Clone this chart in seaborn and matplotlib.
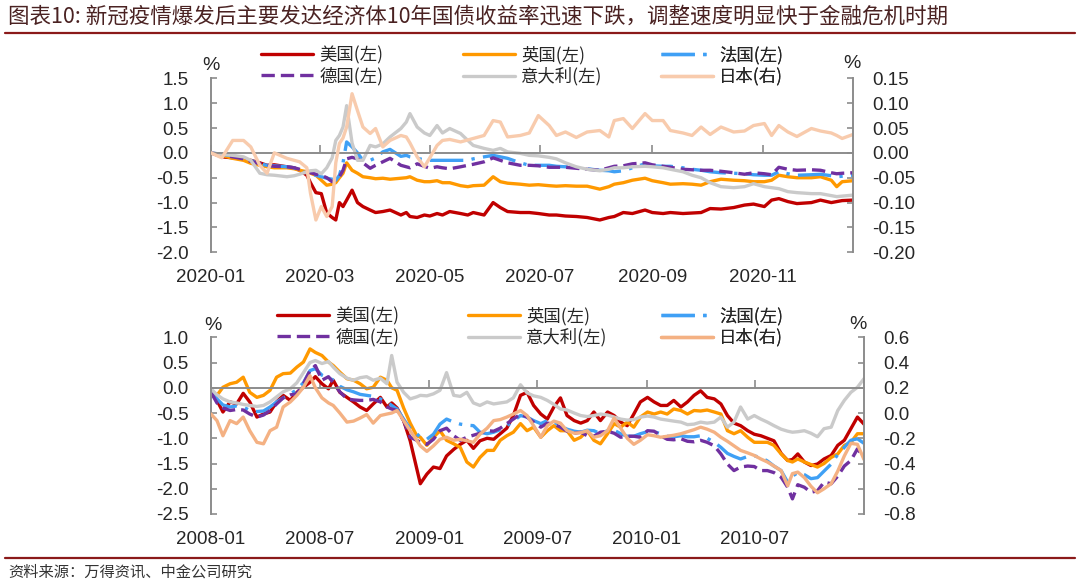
import matplotlib
matplotlib.use('Agg')
import matplotlib.pyplot as plt
from matplotlib.dates import DateFormatter, MonthLocator
from matplotlib.lines import Line2D
import seaborn as sns
import pandas as pd

# ---- 2020 panel: days since 2020-01-01, change in 10y yield (pp) ----
top_day = [0, 6, 12, 18, 22, 27, 31, 35, 42, 46,
           49, 53, 55, 58, 61, 64, 67, 69, 71, 73,
           75, 78, 81, 84, 88, 91, 95, 99, 105, 108,
           110, 114, 118, 121, 125, 128, 132, 138, 142, 145,
           151, 156, 160, 164, 171, 176, 181, 187, 191, 196,
           202, 208, 215, 220, 223, 228, 233, 240, 244, 250,
           254, 261, 266, 271, 276, 282, 289, 295, 300, 306,
           310, 314, 319, 324, 332, 337, 343, 346, 349, 355]
top_us = [0.0, -0.08, -0.1, -0.12, -0.15, -0.2, -0.25, -0.24, -0.28, -0.3,
          -0.35, -0.45, -0.6, -0.8, -0.82, -1.21, -1.3, -1.35, -1.0, -1.08,
          -0.95, -0.75, -1.0, -1.08, -1.15, -1.2, -1.18, -1.15, -1.25, -1.2,
          -1.28, -1.3, -1.25, -1.27, -1.22, -1.25, -1.18, -1.22, -1.25, -1.2,
          -1.25, -1.0, -1.1, -1.18, -1.2, -1.2, -1.22, -1.25, -1.25, -1.27,
          -1.28, -1.3, -1.35, -1.3, -1.28, -1.2, -1.22, -1.15, -1.2, -1.22,
          -1.2, -1.22, -1.21, -1.2, -1.12, -1.13, -1.1, -1.05, -1.03, -1.08,
          -0.95, -0.92, -0.98, -1.02, -1.0, -0.95, -1.0, -0.98, -0.96, -0.95]
top_uk = [0.0, -0.05, -0.11, -0.15, -0.21, -0.25, -0.28, -0.3, -0.3, -0.32,
          -0.35, -0.38, -0.41, -0.45, -0.55, -0.65, -0.63, -0.6, -0.5, -0.41,
          -0.2, -0.35, -0.41, -0.48, -0.5, -0.52, -0.51, -0.53, -0.51, -0.5,
          -0.48, -0.55, -0.58, -0.58, -0.56, -0.6, -0.6, -0.66, -0.68, -0.66,
          -0.65, -0.48, -0.58, -0.61, -0.63, -0.65, -0.64, -0.66, -0.67, -0.66,
          -0.67, -0.67, -0.73, -0.68, -0.63, -0.6, -0.55, -0.51, -0.56, -0.6,
          -0.63, -0.62, -0.63, -0.65, -0.58, -0.53, -0.55, -0.56, -0.58, -0.58,
          -0.55, -0.45, -0.48, -0.5, -0.5, -0.48, -0.55, -0.68, -0.58, -0.56]
top_fr = [0.0, -0.03, -0.06, -0.1, -0.15, -0.22, -0.25, -0.26, -0.28, -0.3,
          -0.38, -0.4, -0.42, -0.45, -0.48, -0.51, -0.53, -0.55, -0.45, -0.2,
          0.22, 0.12, 0.0, -0.15, -0.15, -0.1, 0.02, 0.07, -0.07, -0.05,
          -0.08, -0.11, -0.14, -0.15, -0.15, -0.15, -0.15, -0.15, -0.15, -0.12,
          -0.08, -0.05, -0.08, -0.11, -0.2, -0.25, -0.25, -0.25, -0.27, -0.28,
          -0.3, -0.32, -0.35, -0.36, -0.38, -0.36, -0.3, -0.22, -0.26, -0.27,
          -0.27, -0.3, -0.33, -0.35, -0.38, -0.4, -0.41, -0.42, -0.44, -0.45,
          -0.45, -0.38, -0.42, -0.45, -0.44, -0.43, -0.46, -0.48, -0.47, -0.45]
top_de = [0.0, -0.04, -0.08, -0.12, -0.17, -0.22, -0.25, -0.27, -0.28, -0.3,
          -0.33, -0.36, -0.4, -0.43, -0.45, -0.5, -0.58, -0.55, -0.48, -0.35,
          -0.12, -0.09, -0.12, -0.2, -0.31, -0.25, -0.18, -0.11, -0.25, -0.28,
          -0.3, -0.22, -0.27, -0.31, -0.28, -0.3, -0.32, -0.28, -0.25, -0.23,
          -0.18, -0.1, -0.15, -0.2, -0.25, -0.25, -0.26, -0.29, -0.29, -0.29,
          -0.31, -0.33, -0.35, -0.3, -0.27, -0.26, -0.22, -0.2, -0.24, -0.27,
          -0.29, -0.33, -0.34, -0.35, -0.35, -0.37, -0.4, -0.43, -0.4, -0.42,
          -0.44, -0.29, -0.33, -0.35, -0.34, -0.35, -0.4, -0.42, -0.41, -0.4]
top_it = [0.0, -0.03, -0.05, -0.08, -0.15, -0.41, -0.44, -0.45, -0.48, -0.46,
          -0.43, -0.38, -0.36, -0.35, -0.42, -0.3, -0.1, 0.25, 0.35, 0.52,
          0.95, 0.2, -0.15, -0.15, 0.15, 0.12, 0.18, 0.32, 0.49, 0.62,
          0.79, 0.52, 0.4, 0.35, 0.55, 0.4, 0.49, 0.39, 0.25, 0.15,
          0.09, 0.05, 0.09, 0.02, -0.01, -0.05, -0.06, -0.09, -0.12, -0.2,
          -0.28, -0.33, -0.36, -0.33, -0.3, -0.3, -0.28, -0.27, -0.28, -0.3,
          -0.33, -0.38, -0.45, -0.5, -0.6, -0.68, -0.7, -0.68, -0.62, -0.68,
          -0.7, -0.72, -0.78, -0.8, -0.82, -0.82, -0.86, -0.88, -0.87, -0.85]
top_jp = [0.0, -0.01, 0.025, 0.025, 0.012, -0.025, -0.041, 0.0, -0.011, -0.015,
          -0.018, -0.03, -0.081, -0.135, -0.108, -0.128, -0.108, -0.02, 0.019, 0.03,
          0.052, 0.119, 0.085, 0.052, 0.039, 0.049, 0.012, 0.025, 0.035, 0.032,
          0.02, -0.008, -0.028, -0.01, 0.015, 0.025, 0.027, 0.022, 0.026, 0.029,
          0.035, 0.065, 0.062, 0.032, 0.035, 0.04, 0.075, 0.055, 0.035, 0.042,
          0.031, 0.042, 0.045, 0.032, 0.065, 0.069, 0.049, 0.079, 0.065, 0.065,
          0.045, 0.04, 0.035, 0.052, 0.037, 0.052, 0.042, 0.044, 0.055, 0.059,
          0.035, 0.055, 0.042, 0.033, 0.049, 0.044, 0.04, 0.035, 0.029, 0.037]

# ---- 2008-2010 panel: days since 2008-01-01 ----
bot_day = [0, 10, 20, 32, 43, 54, 65, 77, 88, 99,
           110, 121, 133, 144, 155, 166, 175, 186, 197, 205,
           216, 228, 239, 250, 261, 272, 284, 295, 303, 312,
           323, 334, 345, 351, 362, 373, 384, 395, 407, 418,
           429, 440, 451, 463, 474, 485, 496, 507, 519, 530,
           541, 553, 564, 575, 586, 597, 609, 620, 631, 642,
           653, 665, 676, 687, 698, 709, 720, 732, 743, 754,
           765, 776, 788, 799, 810, 821, 832, 844, 855, 866,
           877, 888, 900, 911, 922, 933, 944, 956, 967, 975,
           984, 995, 1006, 1017, 1028, 1040, 1051, 1062, 1073, 1084,
           1095]
bot_us = [-0.05, -0.25, -0.48, -0.28, -0.32, -0.11, -0.28, -0.58, -0.52, -0.48,
          -0.28, -0.15, -0.25, -0.09, 0.01, 0.11, 0.22, 0.08, -0.02, 0.15,
          -0.09, -0.19, -0.28, -0.38, -0.45, -0.32, -0.19, -0.38, -0.3, -0.4,
          -0.65, -1.05, -1.6, -1.9, -1.71, -1.57, -1.6, -1.35, -1.22, -1.12,
          -1.04, -1.2, -1.05, -1.0, -1.02, -0.91, -0.8, -0.55, -0.15, -0.09,
          -0.35, -0.52, -0.62, -0.38, -0.2, -0.55, -0.65, -0.7, -0.65, -0.48,
          -0.65, -0.48, -0.55, -0.68, -0.75, -0.52, -0.28, -0.19, -0.28, -0.35,
          -0.35, -0.25, -0.38, -0.28, -0.15, -0.06, -0.19, -0.22, -0.32, -0.55,
          -0.7, -0.75, -0.85, -0.92, -0.95, -1.0, -1.05, -1.3, -1.44, -1.42,
          -1.31, -1.47, -1.54, -1.51, -1.41, -1.34, -1.14, -1.04, -0.81, -0.58,
          -0.72]
bot_uk = [-0.05, -0.15, 0.01, 0.08, 0.11, 0.21, -0.09, -0.19, -0.15, -0.05,
          0.21, 0.28, 0.29, 0.41, 0.51, 0.77, 0.7, 0.64, 0.51, 0.44,
          0.31, 0.18, 0.15, 0.08, -0.02, 0.01, 0.21, 0.15, 0.0, -0.05,
          -0.4, -0.7, -0.95, -0.98, -1.14, -0.98, -0.85, -1.04, -1.11, -1.18,
          -1.47, -1.57, -1.38, -1.24, -1.24, -1.04, -0.95, -0.88, -0.71, -0.85,
          -0.78, -0.98, -0.85, -0.75, -0.85, -0.85, -1.04, -0.98, -0.85, -1.04,
          -1.11, -0.91, -0.71, -0.78, -0.68, -0.78, -0.58, -0.48, -0.52, -0.48,
          -0.52, -0.42, -0.45, -0.52, -0.45, -0.46, -0.44, -0.48, -0.52, -0.85,
          -0.91, -0.85, -0.98, -1.08, -1.08, -1.08, -1.14, -1.31, -1.44, -1.47,
          -1.41, -1.47, -1.52, -1.57, -1.5, -1.38, -1.31, -1.14, -1.08, -0.91,
          -0.91]
bot_fr = [-0.05, -0.22, -0.34, -0.38, -0.36, -0.38, -0.45, -0.47, -0.46, -0.38,
          -0.28, -0.2, -0.12, -0.04, 0.1, 0.34, 0.38, 0.25, 0.2, 0.15,
          0.03, -0.04, -0.08, -0.13, -0.15, -0.17, -0.22, -0.28, -0.35, -0.42,
          -0.62, -0.81, -0.91, -0.98, -1.02, -0.92, -0.72, -0.62, -0.68, -0.72,
          -0.74, -0.75, -0.88, -0.91, -0.88, -0.83, -0.75, -0.66, -0.55, -0.58,
          -0.65, -0.71, -0.65, -0.68, -0.75, -0.82, -0.86, -0.88, -0.84, -0.85,
          -0.91, -0.85, -0.84, -0.91, -0.96, -0.96, -0.91, -0.87, -0.87, -0.91,
          -0.96, -0.97, -0.95, -0.97, -0.97, -0.95, -1.0, -1.08, -1.18, -1.3,
          -1.36, -1.41, -1.36, -1.35, -1.38, -1.45, -1.55, -1.64, -1.87, -1.75,
          -1.68, -1.72, -1.8, -1.78, -1.65, -1.51, -1.32, -1.18, -1.04, -1.01,
          -1.1]
bot_de = [-0.09, -0.3, -0.4, -0.45, -0.43, -0.44, -0.52, -0.58, -0.54, -0.45,
          -0.32, -0.2, -0.14, -0.12, 0.08, 0.34, 0.44, 0.15, 0.22, 0.1,
          -0.08, -0.22, -0.24, -0.25, -0.25, -0.23, -0.28, -0.38, -0.42, -0.45,
          -0.65, -0.98, -1.04, -1.08, -1.12, -1.02, -0.85, -0.8, -0.95, -1.04,
          -0.98, -0.94, -0.9, -0.85, -0.86, -0.8, -0.71, -0.62, -0.52, -0.58,
          -0.68, -0.78, -0.7, -0.72, -0.78, -0.86, -0.9, -0.88, -0.95, -0.96,
          -0.88, -0.86, -0.9, -0.98, -0.96, -0.96, -0.98, -0.85, -0.86, -0.95,
          -1.02, -1.03, -1.01, -1.06, -1.07, -1.04, -1.08, -1.15, -1.31, -1.51,
          -1.64, -1.57, -1.55, -1.56, -1.64, -1.64, -1.68, -1.77, -1.97, -2.2,
          -1.92, -1.97, -2.07, -2.04, -1.87, -1.9, -1.75, -1.55, -1.44, -1.21,
          -1.38]
bot_it = [-0.02, -0.14, -0.22, -0.28, -0.3, -0.33, -0.35, -0.37, -0.35, -0.28,
          -0.18, -0.08, -0.02, 0.1, 0.3, 0.5, 0.54, 0.48, 0.52, 0.41,
          0.28, 0.19, 0.15, 0.2, 0.22, 0.15, 0.19, 0.08, 0.64, 0.11,
          -0.09, -0.22, -0.18, -0.15, -0.16, -0.12, -0.05, 0.3, -0.15, -0.17,
          -0.09, -0.3, -0.35, -0.28, -0.32, -0.3, -0.28, -0.2, 0.06, -0.1,
          -0.16, -0.19, -0.25, -0.33, -0.42, -0.44, -0.5, -0.55, -0.57, -0.55,
          -0.52, -0.54, -0.58, -0.62, -0.64, -0.63, -0.58, -0.56, -0.58, -0.62,
          -0.64, -0.66, -0.68, -0.73, -0.72, -0.68, -0.7, -0.68, -0.58, -0.78,
          -0.68, -0.38, -0.62, -0.55, -0.62, -0.68, -0.75, -0.82, -0.86, -0.88,
          -0.87, -0.85, -0.9, -0.97, -0.81, -0.78, -0.45, -0.25, -0.09, 0.01,
          0.18]
bot_jp = [-0.008, -0.06, -0.18, -0.06, -0.084, -0.032, -0.14, -0.232, -0.244, -0.14,
          -0.112, 0.048, 0.088, 0.14, 0.204, 0.296, 0.2, 0.12, 0.08, 0.06,
          0.0, -0.072, -0.064, -0.04, -0.012, -0.08, -0.02, -0.008, 0.0, 0.02,
          -0.06, -0.14, -0.216, -0.26, -0.304, -0.26, -0.208, -0.192, -0.216, -0.208,
          -0.22, -0.232, -0.168, -0.12, -0.06, -0.052, -0.032, -0.008, 0.02, -0.02,
          -0.1, -0.192, -0.1, -0.064, -0.08, -0.14, -0.16, -0.156, -0.14, -0.192,
          -0.18, -0.14, -0.04, -0.12, -0.2, -0.248, -0.216, -0.172, -0.18, -0.192,
          -0.184, -0.176, -0.164, -0.148, -0.132, -0.112, -0.128, -0.152, -0.192, -0.224,
          -0.26, -0.296, -0.316, -0.336, -0.364, -0.388, -0.42, -0.456, -0.576, -0.48,
          -0.468, -0.512, -0.58, -0.632, -0.6, -0.56, -0.46, -0.34, -0.24, -0.248,
          -0.368]

left_names = ['美国(左)', '英国(左)', '法国(左)', '德国(左)', '意大利(左)']
jp_name = '日本(右)'

palette = {'美国(左)': '#C00000', '英国(左)': '#FF9900', '法国(左)': '#3FA0F5',
           '德国(左)': '#7030A0', '意大利(左)': '#CACACA'}
dashes = {'美国(左)': '', '英国(左)': '', '法国(左)': (10, 2.5, 1, 2.5),
          '德国(左)': (4, 1.8), '意大利(左)': ''}
GRAY = '#8C8C8C'
LW = 2.4
W, H = 1080, 583

sns.set_theme(style='white')
plt.rcParams['font.family'] = ['Liberation Sans', 'Noto Sans CJK SC', 'DejaVu Sans']
CJK = ['Noto Sans CJK SC', 'DejaVu Sans']

fig = plt.figure(figsize=(W / 100, H / 100), dpi=100)


def panel(rect, start, days, series, jp, jp_color, ylim, lticks, lfmt,
          ylim2, rticks, rfmt, months, leg_x, leg_y, pct):
    ax = fig.add_axes(rect)
    ax2 = ax.twinx()
    dates = pd.Timestamp(start) + pd.to_timedelta(days, unit='D')
    df = pd.concat([pd.DataFrame({'date': dates, 'value': vals, 'country': name})
                    for name, vals in zip(left_names, series)])
    sns.lineplot(data=df, x='date', y='value', hue='country', style='country',
                 palette=palette, dashes=dashes, linewidth=LW, ax=ax,
                 legend=False, estimator=None, errorbar=None, sort=False)
    sns.lineplot(x=dates, y=jp, color=jp_color, linewidth=LW, ax=ax2,
                 estimator=None, errorbar=None, sort=False)

    ax.set_xlim(dates[0], dates[-1])
    ax.set_ylim(*ylim)
    ax.set_yticks(lticks)
    ax.yaxis.set_major_formatter(plt.FormatStrFormatter(lfmt))
    ax2.set_ylim(*ylim2)
    ax2.set_yticks(rticks)
    ax2.yaxis.set_major_formatter(plt.FormatStrFormatter(rfmt))
    for a in (ax, ax2):
        a.set_xlabel('')
        a.set_ylabel('')

    ax.xaxis.set_major_locator(MonthLocator(bymonth=months))
    ax.xaxis.set_major_formatter(DateFormatter('%Y-%m'))

    for s in ['top', 'right']:
        ax.spines[s].set_visible(False)
    for s in ['top', 'bottom', 'left']:
        ax2.spines[s].set_visible(False)
    ax.spines['left'].set_color(GRAY)
    ax.spines['left'].set_linewidth(1.4)
    ax2.spines['right'].set_color(GRAY)
    ax2.spines['right'].set_linewidth(1.4)
    ax.spines['bottom'].set_position(('data', 0))
    ax.spines['bottom'].set_color(GRAY)
    ax.spines['bottom'].set_linewidth(1.4)

    ax.tick_params(axis='x', direction='in', length=6, width=1.2, color=GRAY,
                   labelbottom=False, bottom=True)
    ax.tick_params(axis='y', direction='in', length=4, width=1.2, color=GRAY,
                   labelsize=13.5, pad=16, left=True)
    ax2.tick_params(axis='y', direction='in', length=4, width=1.2, color=GRAY,
                    labelsize=13.5, pad=14, right=True)
    # date labels sit at the bottom of the frame, ticks stay on the zero line
    ax2.xaxis.set_visible(True)
    ax2.tick_params(axis='x', length=0, labelbottom=True, labelsize=13.5, pad=12,
                    bottom=False, top=False, labeltop=False)
    ax2.set_xlabel('')
    ax.grid(False)
    ax2.grid(False)

    handles = [Line2D([], [], color=palette[n], lw=LW, dashes=dashes[n] or (None, None))
               for n in left_names]
    handles.append(Line2D([], [], color=jp_color, lw=LW))
    labels = left_names + [jp_name]
    cols = [(0, 3), (1, 4), (2, 5)]
    for (i, j), x in zip(cols, leg_x):
        leg = ax2.legend([handles[i], handles[j]], [labels[i], labels[j]],
                         loc='upper left', bbox_to_anchor=(x / W, 1 - leg_y / H),
                         bbox_transform=fig.transFigure, frameon=False,
                         borderpad=0, borderaxespad=0, handlelength=3.0,
                         handletextpad=0.35, labelspacing=0.15,
                         prop={'family': CJK, 'size': 12.5})
        ax2.add_artist(leg)

    for (px, py) in pct:
        fig.text(px / W, 1 - py / H, '%', ha='center', va='center', fontsize=14,
                 family='Liberation Sans')
    return ax, ax2


panel([211 / W, 1 - 252.3 / H, (853 - 211) / W, (252.3 - 78.3) / H],
      '2020-01-01', top_day, [top_us, top_uk, top_fr, top_de, top_it],
      top_jp, '#F8CBAD', (-2.0, 1.5), [-2.0, -1.5, -1.0, -0.5, 0.0, 0.5, 1.0, 1.5], '%.1f',
      (-0.20, 0.15), [-0.20, -0.15, -0.10, -0.05, 0.0, 0.05, 0.10, 0.15], '%.2f',
      [1, 3, 5, 7, 9, 11], [261, 463, 661], 46, [(211, 66), (852, 63)])

panel([211 / W, 1 - 514 / H, (864 - 211) / W, (514 - 337.3) / H],
      '2008-01-01', bot_day, [bot_us, bot_uk, bot_fr, bot_de, bot_it],
      bot_jp, '#F4B183', (-2.5, 1.0), [-2.5, -2.0, -1.5, -1.0, -0.5, 0.0, 0.5, 1.0], '%.1f',
      (-0.8, 0.6), [-0.8, -0.6, -0.4, -0.2, 0.0, 0.2, 0.4, 0.6], '%.1f',
      [1, 7], [277, 468, 661], 307, [(213, 326), (858, 325)])

fig.text(8 / W, 1 - 17 / H,
         '图表10: 新冠疫情爆发后主要发达经济体10年国债收益率迅速下跌，调整速度明显快于金融危机时期',
         ha='left', va='center', fontsize=15.5, style='italic', color='#4A2222', family=CJK)
fig.add_artist(Line2D([5 / W, 1075 / W], [1 - 33 / H, 1 - 33 / H], transform=fig.transFigure,
                      color='#8B1A1A', lw=1.6))
fig.add_artist(Line2D([5 / W, 1075 / W], [1 - 558 / H, 1 - 558 / H], transform=fig.transFigure,
                      color='#8B1A1A', lw=1.6))
fig.text(8 / W, 1 - 572 / H, '资料来源：万得资讯、中金公司研究', ha='left', va='center',
         fontsize=11, style='italic', color='#333333', family=CJK)

fig.savefig('out.png', dpi=100)
